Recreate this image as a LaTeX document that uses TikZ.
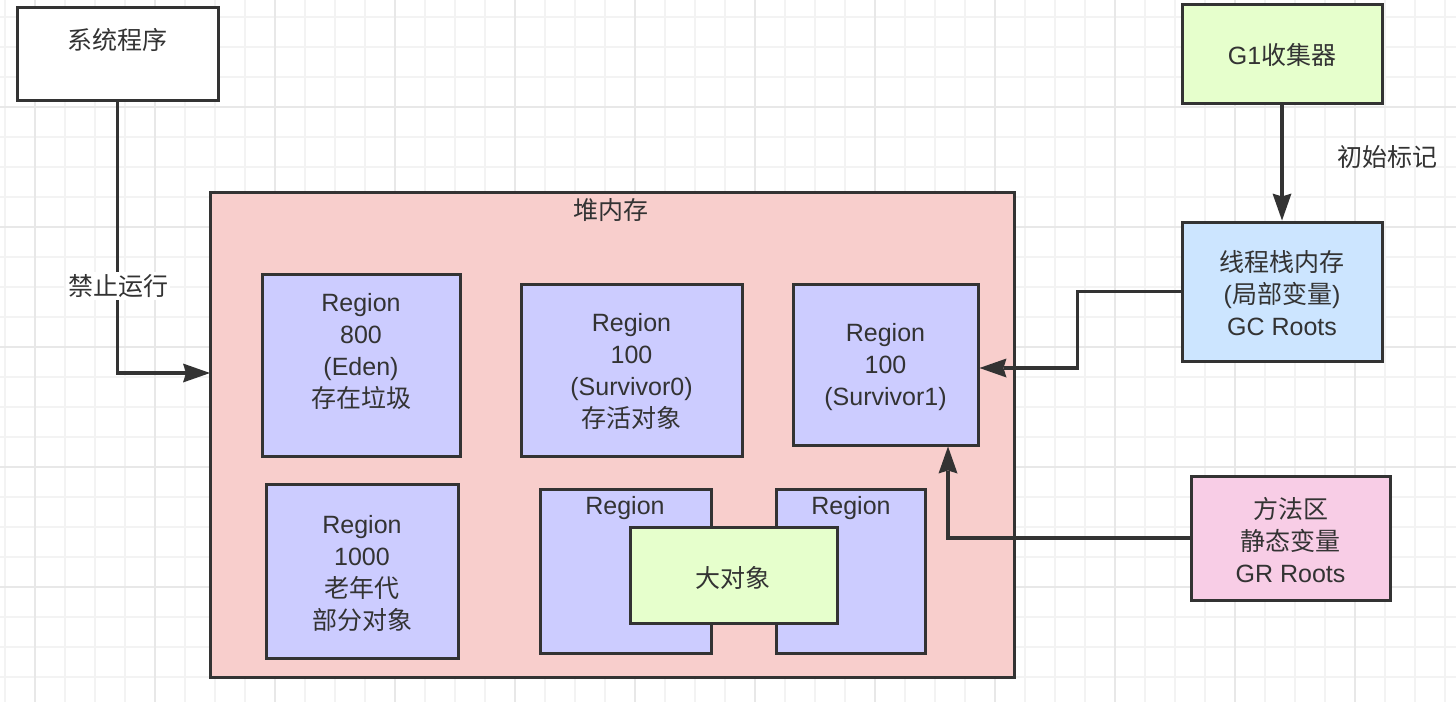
\documentclass[tikz,border=0pt]{standalone}
\usepackage{fontspec}
\setmainfont{Liberation Sans}
\newfontfamily\cjk{Noto Sans CJK SC}
\usetikzlibrary{arrows.meta}
\definecolor{ink}{HTML}{333333}
\definecolor{gridminor}{HTML}{F3F3F3}
\definecolor{gridmajor}{HTML}{E8E8E8}
\definecolor{heapfill}{HTML}{F8CECC}
\definecolor{regionfill}{HTML}{CCCCFF}
\definecolor{greenfill}{HTML}{E6FFCC}
\definecolor{bluefill}{HTML}{CCE5FF}
\definecolor{pinkfill}{HTML}{F8CDE6}
\tikzset{
  box/.style={draw=ink, line width=3pt, rectangle, inner sep=0pt},
  txt/.style={font=\fontsize{25}{32}\selectfont, text=ink, align=center, inner sep=0pt},
  conn/.style={draw=ink, line width=3.3pt},
  arr/.style={conn, -{Stealth[length=27pt, width=19pt, inset=3pt, line width=0pt]}},
}
\begin{document}
\begin{tikzpicture}[x=1pt, y=-1pt]
\useasboundingbox (0,0) rectangle (1456,702);
% background grid
\fill[white] (0,0) rectangle (1456,702);
\foreach \x in {5,35,...,1455} \draw[gridminor, line width=1.5pt] (\x,0) -- (\x,702);
\foreach \y in {17,47,...,700} \draw[gridminor, line width=1.5pt] (0,\y) -- (1456,\y);
\foreach \x in {35,155,...,1455} \draw[gridmajor, line width=1.5pt] (\x,0) -- (\x,702);
\foreach \y in {107,227,...,700} \draw[gridmajor, line width=1.5pt] (0,\y) -- (1456,\y);

% boxes
\node[box, fill=white, minimum width=201pt, minimum height=93pt] (sys) at (117.5,53.5) {};
\node[box, fill=heapfill, minimum width=804pt, minimum height=485pt] (heap) at (612,434.5) {};
\node[box, fill=regionfill, minimum width=198pt, minimum height=182pt] (eden) at (361,365) {};
\node[box, fill=regionfill, minimum width=221pt, minimum height=172pt] (surv0) at (631.5,370) {};
\node[box, fill=regionfill, minimum width=185pt, minimum height=161pt] (surv1) at (885.5,364.5) {};
\node[box, fill=regionfill, minimum width=192pt, minimum height=174pt] (old) at (362,571) {};
\node[box, fill=regionfill, minimum width=171pt, minimum height=164pt] (regL) at (625.5,571) {};
\node[box, fill=regionfill, minimum width=149pt, minimum height=164pt] (regR) at (850.5,571) {};
\node[box, fill=greenfill, minimum width=207pt, minimum height=96pt] (big) at (733.5,575) {};
\node[box, fill=greenfill, minimum width=200pt, minimum height=99pt] (g1) at (1282,53.5) {};
\node[box, fill=bluefill, minimum width=200pt, minimum height=139pt] (gc) at (1282,291.5) {};
\node[box, fill=pinkfill, minimum width=199pt, minimum height=124pt] (fa) at (1290.5,538) {};

% texts
\node[txt] (sysT) at (117.5,40) {\cjk 系统程序};
\node[txt] (heapT) at (611,210) {\cjk 堆内存};
\node[txt] (edenT) at (361,351) {Region\\800\\(Eden)\\{\cjk 存在垃圾}};
\node[txt] (surv0T) at (631.5,371) {Region\\100\\(Survivor0)\\{\cjk 存活对象}};
\node[txt] (surv1T) at (885.5,367) {Region\\100\\(Survivor1)};
\node[txt] (oldT) at (362,573) {Region\\1000\\{\cjk 老年代}\\{\cjk 部分对象}};
\node[txt] (regLT) at (625,508) {Region};
\node[txt] (regRT) at (851,508) {Region};
\node[txt] (bigT) at (733,578) {\cjk 大对象};
\node[txt] (g1T) at (1282,55) {G1{\cjk 收集器}};
\node[txt] (gcT) at (1282,293) {{\cjk 线程栈内存}\\({\cjk 局部变量})\\GC Roots};
\node[txt] (faT) at (1290.5,540) {{\cjk 方法区}\\{\cjk 静态变量}\\GR Roots};

% connectors
\coordinate (heapIn) at (210,373);
\draw[arr] (sys.south) |- (heapIn);
\node[txt, fill=white, inner sep=2pt] (stopL) at (118,286) {\cjk 禁止运行};

\draw[arr] (g1.south) -- (gc.north);
\node[txt] (markL) at (1387,157) {\cjk 初始标记};

\draw[arr] (gc.west) -- ++(-103,0) |- ([yshift=-3.5pt]surv1.east);
\draw[arr] (fa.west) -| ([xshift=62.5pt]surv1.south);
\end{tikzpicture}
\end{document}
